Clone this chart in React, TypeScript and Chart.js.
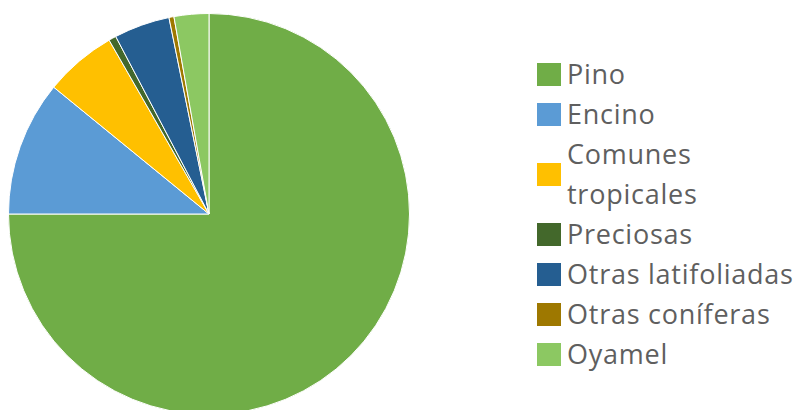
import { useEffect, useRef } from "react";
import { Chart, registerables } from "chart.js";

Chart.register(...registerables);

// volumen por grupo de especies (%)
const labels: (string | string[])[] = [
  "Pino",
  "Encino",
  ["Comunes", "tropicales"],
  "Preciosas",
  "Otras latifoliadas",
  "Otras coníferas",
  "Oyamel",
];
const values = [75.0, 10.9, 5.8, 0.6, 4.5, 0.4, 2.8];
const colors = ["#70AD47", "#5B9BD5", "#FFC000", "#43682B", "#255E91", "#9E7800", "#8CC862"];

const FONT = "'Open Sans', Lato, sans-serif";

export default function App() {
  const canvasRef = useRef<HTMLCanvasElement>(null);
  const chartRef = useRef<Chart | null>(null);

  useEffect(() => {
    const canvas = canvasRef.current;
    if (!canvas) return;
    if (chartRef.current) chartRef.current.destroy();

    chartRef.current = new Chart(canvas.getContext("2d")!, {
      type: "pie",
      data: {
        labels,
        datasets: [
          {
            data: values,
            backgroundColor: colors,
            borderColor: "#ffffff",
            borderWidth: 1,
          },
        ],
      },
      options: {
        animation: false,
        responsive: false,
        maintainAspectRatio: false,
        layout: { padding: 0 },
        plugins: {
          legend: { display: false },
          tooltip: { enabled: false },
        },
      },
    });

    return () => {
      chartRef.current?.destroy();
      chartRef.current = null;
    };
  }, []);

  return (
    <div
      style={{
        position: "fixed",
        left: 0,
        top: 0,
        width: 799,
        height: 410,
        overflow: "hidden",
        background: "#ffffff",
        fontFamily: FONT,
      }}
    >
      <div style={{ position: "absolute", left: 8, top: 13, width: 402, height: 402 }}>
        <canvas ref={canvasRef} width={402} height={402} style={{ width: 402, height: 402 }} />
      </div>
      <div style={{ position: "absolute", left: 537, top: 54 }}>
        {labels.map((l, i) => {
          const lines = Array.isArray(l) ? l : [l];
          return (
            <div
              key={i}
              style={{ display: "flex", alignItems: "center", height: 40 * lines.length }}
            >
              <span
                style={{
                  display: "inline-block",
                  width: 24,
                  height: 23,
                  background: colors[i],
                  marginRight: 6,
                  flexShrink: 0,
                }}
              />
              <span
                style={{
                  fontSize: 27,
                  lineHeight: "40px",
                  color: "#5f5f5f",
                  whiteSpace: "nowrap",
                  letterSpacing: 0.75,
                }}
              >
                {lines.map((t, j) => (
                  <div key={j}>{t}</div>
                ))}
              </span>
            </div>
          );
        })}
      </div>
    </div>
  );
}
